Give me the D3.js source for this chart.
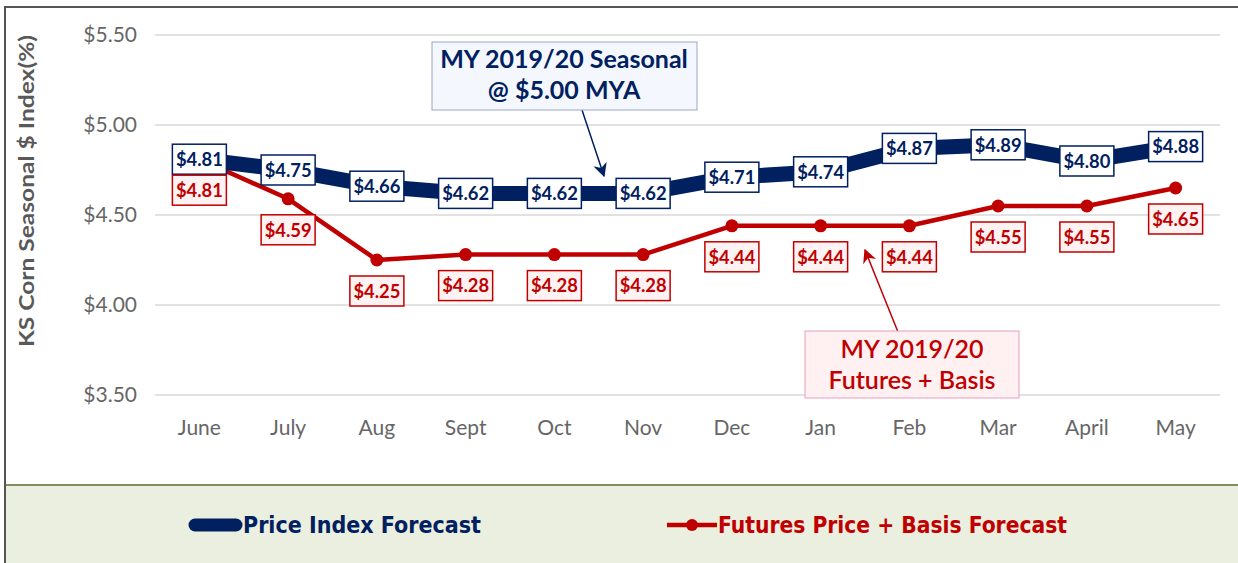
<!DOCTYPE html>
<html>
<head>
<meta charset="utf-8">
<script src="https://cdn.jsdelivr.net/npm/d3@7"></script>
<style>
  body { margin: 0; background: #fff; }
  svg { display: block; font-family: Lato, "Open Sans", sans-serif; }
</style>
</head>
<body>
<div id="chart"></div>
<script>
var months = ["June", "July", "Aug", "Sept", "Oct", "Nov", "Dec", "Jan", "Feb", "Mar", "April", "May"];
var priceIndex = [4.81, 4.75, 4.66, 4.62, 4.62, 4.62, 4.71, 4.74, 4.87, 4.89, 4.80, 4.88];
var futuresBasis = [4.81, 4.59, 4.25, 4.28, 4.28, 4.28, 4.44, 4.44, 4.44, 4.55, 4.55, 4.65];
var yTicks = [3.5, 4.0, 4.5, 5.0, 5.5];

var width = 1238, height = 563;
var navy = "#002060", red = "#C00000", gray = "#595959";

var svg = d3.select("#chart").append("svg")
  .attr("width", width)
  .attr("height", height);

// legend strip
svg.append("rect").attr("x", 5).attr("y", 485).attr("width", width - 5).attr("height", height - 485)
  .attr("fill", "#EBEFDF");
svg.append("line").attr("x1", 5).attr("x2", width).attr("y1", 485).attr("y2", 485)
  .attr("stroke", "#7F8F5F").attr("stroke-width", 2);
// outer border
svg.append("rect").attr("x", 5).attr("y", 7).attr("width", width).attr("height", height)
  .attr("fill", "none").attr("stroke", "#555").attr("stroke-width", 2);

var x = d3.scaleBand().domain(months).range([155, 1220]);
var y = d3.scaleLinear().domain([3.5, 5.5]).range([395, 35]);
var cx = function(d, i) { return x(months[i]) + x.bandwidth() / 2; };

// grid
svg.append("g").selectAll("line").data(yTicks).enter().append("line")
  .attr("x1", 155).attr("x2", 1220)
  .attr("y1", function(d) { return y(d); }).attr("y2", function(d) { return y(d); })
  .attr("stroke", "#D9D9D9").attr("stroke-width", 1.5);

// y axis labels
var yAxis = svg.append("g").attr("transform", "translate(137,0)")
  .call(d3.axisLeft(y).tickValues(yTicks).tickSize(0).tickPadding(0)
    .tickFormat(function(d) { return "$" + d3.format(".2f")(d); }));
yAxis.select(".domain").remove();
yAxis.selectAll("text").attr("fill", "#666").attr("font-size", 21).attr("font-family", "Lato, sans-serif");

// x axis labels
var xAxis = svg.append("g").attr("transform", "translate(0,420)")
  .call(d3.axisBottom(x).tickSize(0).tickPadding(0));
xAxis.select(".domain").remove();
xAxis.selectAll("text").attr("fill", "#666").attr("font-size", 21).attr("font-family", "Lato, sans-serif");

// y title
svg.append("text")
  .attr("transform", "translate(34,191) rotate(-90)")
  .attr("text-anchor", "middle")
  .attr("font-size", 20).attr("font-weight", "bold").attr("fill", gray)
  .attr("textLength", 312).attr("lengthAdjust", "spacingAndGlyphs")
  .text("KS Corn Seasonal $ Index(%)");

var line = function(vals) {
  return d3.line().x(function(d, i) { return cx(d, i); }).y(function(d) { return y(d); })(vals);
};

// red series
svg.append("path").attr("d", line(futuresBasis))
  .attr("fill", "none").attr("stroke", red).attr("stroke-width", 4.5).attr("stroke-linejoin", "round");
svg.append("g").selectAll("circle").data(futuresBasis).enter().append("circle")
  .attr("cx", cx).attr("cy", function(d) { return y(d); }).attr("r", 6.5).attr("fill", red);

// blue series
svg.append("path").attr("d", line(priceIndex))
  .attr("fill", "none").attr("stroke", navy).attr("stroke-width", 15).attr("stroke-linejoin", "round");

// labels
function labels(vals, color, fill, dy) {
  var g = svg.append("g").selectAll("g").data(vals).enter().append("g")
    .attr("transform", function(d, i) { return "translate(" + cx(d, i) + "," + (y(d) + dy) + ")"; });
  g.append("rect").attr("x", -27).attr("y", -15).attr("width", 54).attr("height", 30)
    .attr("fill", fill).attr("stroke", color).attr("stroke-width", 1.5);
  g.append("text").attr("text-anchor", "middle").attr("dy", "0.36em")
    .attr("font-size", 19).attr("font-weight", "bold").attr("fill", color)
    .attr("textLength", 47).attr("lengthAdjust", "spacingAndGlyphs")
    .text(function(d) { return "$" + d3.format(".2f")(d); });
}
labels(priceIndex, navy, "#fff", 0);
labels(futuresBasis, red, "#FFF2F2", 31);

// annotations
var defs = svg.append("defs");
[["arrNavy", navy], ["arrRed", red]].forEach(function(a) {
  defs.append("marker").attr("id", a[0]).attr("viewBox", "0 0 10 10")
    .attr("refX", 9).attr("refY", 5).attr("markerWidth", 14).attr("markerHeight", 14)
    .attr("orient", "auto").attr("markerUnits", "userSpaceOnUse")
    .append("path").attr("d", "M0,0 L10,5 L0,10 L3,5 Z").attr("fill", a[1]);
});

svg.append("line").attr("x1", 582).attr("y1", 110).attr("x2", 604).attr("y2", 176)
  .attr("stroke", navy).attr("stroke-width", 1.5).attr("marker-end", "url(#arrNavy)");
svg.append("rect").attr("x", 432).attr("y", 42).attr("width", 265).attr("height", 68)
  .attr("fill", "#F4F7FE").attr("stroke", "#9AA6C4").attr("stroke-width", 1);
var t1 = svg.append("text").attr("text-anchor", "middle").attr("fill", navy)
  .attr("font-size", 25).attr("font-weight", "bold");
t1.append("tspan").attr("x", 564).attr("y", 68).text("MY 2019/20 Seasonal");
t1.append("tspan").attr("x", 564).attr("y", 99).text("@ $5.00 MYA");

svg.append("line").attr("x1", 898).attr("y1", 332).attr("x2", 865).attr("y2", 250)
  .attr("stroke", red).attr("stroke-width", 1.5).attr("marker-end", "url(#arrRed)");
svg.append("rect").attr("x", 805).attr("y", 331).attr("width", 214).attr("height", 67)
  .attr("fill", "#FFF0F2").attr("stroke", "#E5A0BE").attr("stroke-width", 1);
var t2 = svg.append("text").attr("text-anchor", "middle").attr("fill", red)
  .attr("font-size", 25).attr("font-weight", "600");
t2.append("tspan").attr("x", 912).attr("y", 358).text("MY 2019/20");
t2.append("tspan").attr("x", 912).attr("y", 389).text("Futures + Basis");

// legend
var leg = svg.append("g").attr("font-family", "'Liberation Sans Narrow', 'DejaVu Sans Condensed', sans-serif")
  .attr("font-size", 23).attr("font-weight", "bold");
leg.append("line").attr("x1", 195).attr("x2", 236).attr("y1", 525).attr("y2", 525)
  .attr("stroke", navy).attr("stroke-width", 13).attr("stroke-linecap", "round");
leg.append("text").attr("x", 243).attr("y", 533).attr("fill", navy).text("Price Index Forecast");
leg.append("line").attr("x1", 667).attr("x2", 717).attr("y1", 525).attr("y2", 525)
  .attr("stroke", red).attr("stroke-width", 4.5);
leg.append("circle").attr("cx", 692).attr("cy", 525).attr("r", 6).attr("fill", red);
leg.append("text").attr("x", 718).attr("y", 533).attr("fill", red)
  .attr("textLength", 349).attr("lengthAdjust", "spacingAndGlyphs").text("Futures Price + Basis Forecast");
</script>
</body>
</html>
